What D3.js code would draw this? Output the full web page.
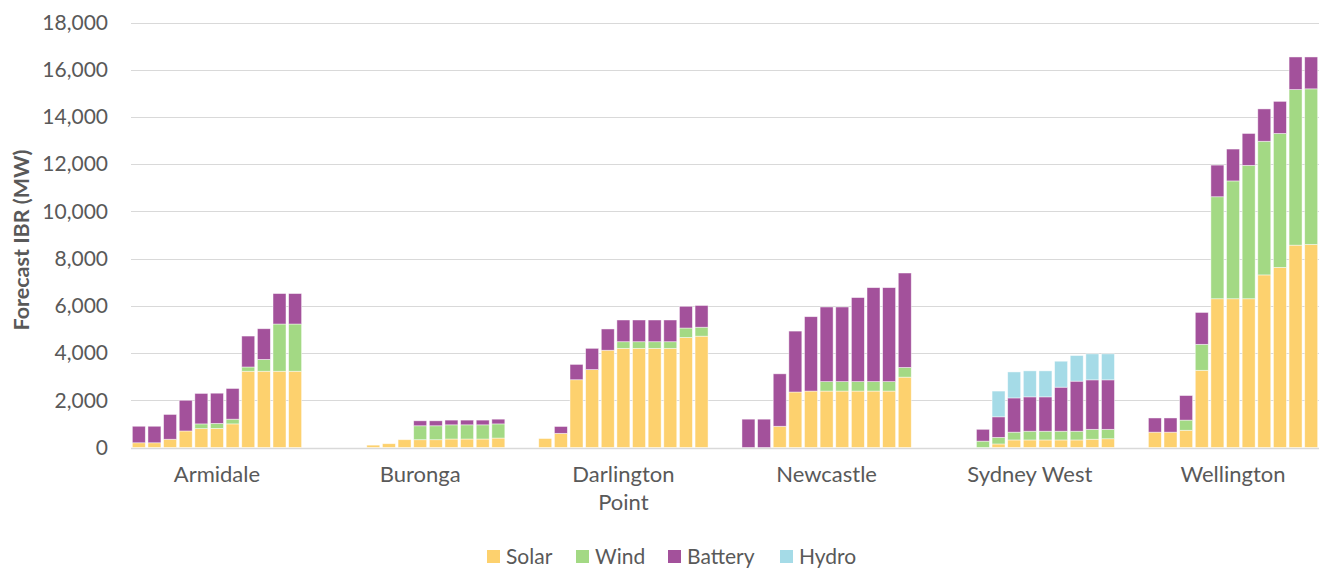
<!DOCTYPE html>
<html>
<head>
<meta charset="utf-8">
<script src="https://cdn.jsdelivr.net/npm/d3@7"></script>
<style>
  body { margin: 0; background: #fff; }
  svg text { font-family: Lato, "Open Sans", sans-serif; fill: #595959; }
</style>
</head>
<body>
<svg id="chart" width="1322" height="570"></svg>
<script>
// regions along the x axis
const regions = ["Armidale", "Buronga", "Darlington Point", "Newcastle", "Sydney West", "Wellington"];
// 11 forecast steps per region (labels not shown on the chart)
const steps = d3.range(11).map(i => "s" + i);

const seriesNames = ["Solar", "Wind", "Battery", "Hydro"];
const seriesColors = ["#fdd16e", "#a3d984", "#a3519b", "#a5dbe7"];

// MW per region, one value per step
const solar = [
  [200, 200, 350, 700, 800, 810, 1000, 3230, 3230, 3230, 3230],
  [0, 0, 100, 160, 330, 330, 330, 360, 360, 360, 400],
  [380, 600, 2870, 3300, 4120, 4200, 4200, 4200, 4200, 4660, 4715],
  [0, 0, 900, 2350, 2390, 2390, 2390, 2390, 2390, 2390, 2980],
  [0, 0, 0, 150, 320, 320, 320, 320, 320, 350, 370],
  [650, 650, 730, 3270, 6300, 6300, 6300, 7310, 7630, 8570, 8600]
];
const wind = [
  [0, 0, 0, 0, 200, 210, 200, 180, 500, 2000, 2000],
  [0, 0, 0, 0, 0, 590, 590, 600, 600, 600, 600],
  [0, 0, 0, 0, 0, 280, 280, 280, 280, 400, 380],
  [0, 0, 0, 0, 0, 400, 400, 400, 400, 400, 410],
  [0, 0, 270, 280, 330, 370, 370, 370, 370, 420, 400],
  [0, 0, 430, 1100, 4320, 4990, 5650, 5660, 5670, 6590, 6590]
];
const battery = [
  [700, 700, 1050, 1300, 1290, 1280, 1300, 1310, 1300, 1290, 1290],
  [0, 0, 0, 0, 0, 210, 210, 200, 200, 200, 200],
  [0, 290, 650, 900, 900, 920, 920, 920, 920, 920, 920],
  [1200, 1200, 2220, 2580, 3150, 3160, 3160, 3560, 3980, 3980, 4000],
  [0, 0, 500, 870, 1450, 1455, 1455, 1865, 2120, 2095, 2095],
  [600, 600, 1040, 1350, 1340, 1350, 1350, 1370, 1360, 1380, 1350]
];
const hydro = [
  [0, 0, 0, 0, 0, 0, 0, 0, 0, 0, 0],
  [0, 0, 0, 0, 0, 0, 0, 0, 0, 0, 0],
  [0, 0, 0, 0, 0, 0, 0, 0, 0, 0, 0],
  [0, 0, 0, 0, 0, 0, 0, 0, 0, 0, 0],
  [0, 0, 0, 1090, 1100, 1100, 1100, 1100, 1085, 1100, 1100],
  [0, 0, 0, 0, 0, 0, 0, 0, 0, 0, 0]
];
const yTicks = d3.range(0, 18001, 2000);

// flat rows for d3.stack
const rows = [];
regions.forEach((r, gi) => {
  steps.forEach((s, si) => {
    rows.push({
      region: r, step: s,
      Solar: solar[gi][si], Wind: wind[gi][si],
      Battery: battery[gi][si], Hydro: hydro[gi][si]
    });
  });
});

const svg = d3.select("#chart");
const plot = { left: 131, right: 1319, top: 22.5, bottom: 447.5 };

// each region takes 13 slots: 11 bars + one empty slot each side
const slot = (plot.right - plot.left) / 76;
const x0 = d3.scaleBand()
  .domain(regions)
  .range([plot.left - slot, plot.right + slot]);
const x1 = d3.scaleBand()
  .domain(steps)
  .range([0, x0.bandwidth()])
  .paddingInner(0.17)
  .paddingOuter(1.085);

const y = d3.scaleLinear().domain([0, 18000]).range([plot.bottom, plot.top]);

// gridlines
svg.append("g")
  .selectAll("line")
  .data(yTicks)
  .join("line")
    .attr("x1", plot.left)
    .attr("x2", plot.right)
    .attr("y1", d => Math.round(y(d)) + 0.5)
    .attr("y2", d => Math.round(y(d)) + 0.5)
    .attr("stroke", "#d9d9d9")
    .attr("stroke-width", d => d === 0 ? 1.5 : 1);

// y axis labels
const yAxis = svg.append("g")
  .attr("transform", `translate(${plot.left - 8},0)`)
  .call(d3.axisLeft(y).tickValues(yTicks).tickFormat(d3.format(",")).tickSize(0).tickPadding(15));
yAxis.select(".domain").remove();
yAxis.selectAll("text")
  .attr("font-size", 21)
  .attr("fill", "#595959")
  .style("font-family", "Lato, sans-serif");

svg.append("text")
  .attr("transform", "translate(29,240) rotate(-90)")
  .attr("text-anchor", "middle")
  .attr("font-size", 21.5)
  .attr("font-weight", "bold")
  .text("Forecast IBR (MW)");

// stacked bars
const stacked = d3.stack().keys(seriesNames)(rows);
const color = d3.scaleOrdinal(seriesNames, seriesColors);

svg.append("g")
  .selectAll("g")
  .data(stacked)
  .join("g")
    .attr("fill", d => color(d.key))
  .selectAll("rect")
  .data(d => d.filter(p => p[1] - p[0] > 0))
  .join("rect")
    .attr("x", d => x0(d.data.region) + x1(d.data.step))
    .attr("width", x1.bandwidth())
    .attr("y", d => y(d[1]))
    .attr("height", d => y(d[0]) - y(d[1]))
    .attr("stroke", "#fff")
    .attr("stroke-opacity", 0.6)
    .attr("stroke-width", 0.75);

// category labels, wrapped when too wide
const catLabels = svg.append("g")
  .selectAll("text")
  .data(regions)
  .join("text")
    .attr("x", d => x0(d) + x0.bandwidth() / 2)
    .attr("y", 482)
    .attr("text-anchor", "middle")
    .attr("font-size", 22);

catLabels.each(function(d) {
  const t = d3.select(this);
  t.text(d);
  if (this.getComputedTextLength() > 145) {
    const words = d.split(" ");
    t.text(null);
    words.forEach((w, i) => {
      t.append("tspan")
        .attr("x", t.attr("x"))
        .attr("dy", i === 0 ? 0 : 28)
        .text(w);
    });
  }
});

// legend
const legendX = [487, 576, 668, 780];
const legend = svg.append("g")
  .selectAll("g")
  .data(seriesNames)
  .join("g")
    .attr("transform", (d, i) => `translate(${legendX[i]},550)`);
legend.append("rect")
  .attr("width", 13)
  .attr("height", 13)
  .attr("fill", d => color(d));
legend.append("text")
  .attr("x", 19)
  .attr("y", 14)
  .attr("font-size", 21)
  .text(d => d);
</script>
</body>
</html>
